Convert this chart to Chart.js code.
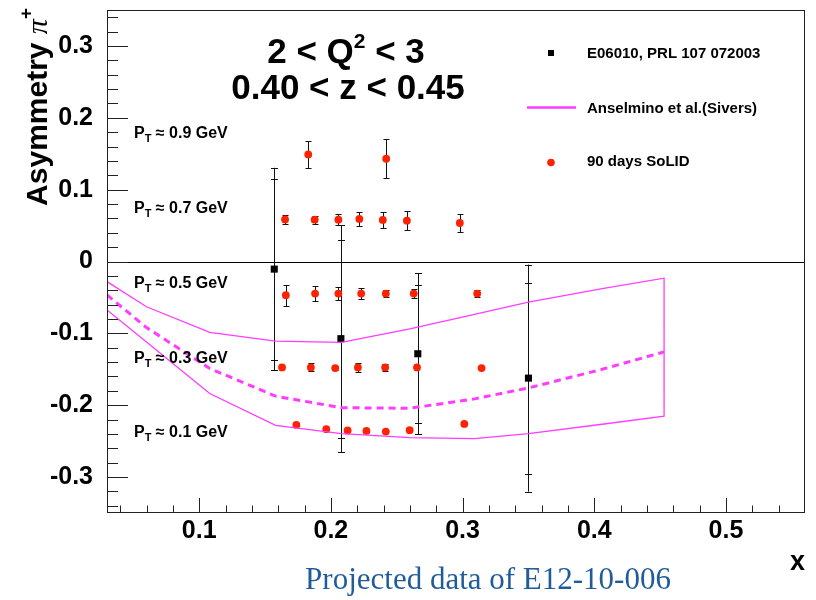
<!DOCTYPE html>
<html>
<head>
<meta charset="utf-8">
<script src="https://cdn.jsdelivr.net/npm/chart.js@4.4.1/dist/chart.umd.min.js"></script>
<style>
  html, body { margin: 0; padding: 0; background: #fff; }
  canvas { display: block; }
</style>
</head>
<body>
<canvas id="asymChart" width="816" height="600"></canvas>
<script>
// axis ticks
const xTicks = [0.1, 0.2, 0.3, 0.4, 0.5];
const yTicks = [-0.3, -0.2, -0.1, 0, 0.1, 0.2, 0.3];

// E06010, PRL 107 072003 (value, total error, stat error)
const e06X = [0.157, 0.2076, 0.266, 0.350];
const e06Y = [-0.0106, -0.1074, -0.1284, -0.1623];
const e06Tot = [0.141, 0.158, 0.112, 0.158];
const e06Stat = [0.126, 0.138, 0.096, 0.133];

// 90 days SoLID projections, one row per PT bin
const ptLabels = ['0.9', '0.7', '0.5', '0.3', '0.1'];
const solidX = [
  [0.1828, 0.2420],
  [0.1652, 0.1877, 0.2057, 0.2216, 0.2394, 0.2577, 0.2979],
  [0.1658, 0.1880, 0.2057, 0.2230, 0.2417, 0.2629, 0.3111],
  [0.1629, 0.1848, 0.2033, 0.2205, 0.2412, 0.2654, 0.3144],
  [0.1738, 0.1965, 0.2127, 0.2270, 0.2417, 0.2598, 0.3013]
];
const solidY = [
  [0.149, 0.143],
  [0.0586, 0.0582, 0.0582, 0.0592, 0.0578, 0.0568, 0.0536],
  [-0.0469, -0.0446, -0.0446, -0.0446, -0.0446, -0.0446, -0.0446],
  [-0.1474, -0.1474, -0.1483, -0.1474, -0.1474, -0.1474, -0.1483],
  [-0.2274, -0.2334, -0.2352, -0.2358, -0.2367, -0.2348, -0.2260]
];
const solidErr = [
  [0.019, 0.027],
  [0.0065, 0.0056, 0.008, 0.0095, 0.011, 0.013, 0.0125],
  [0.0144, 0.0107, 0.0095, 0.0072, 0.0053, 0.0058, 0.005],
  [0, 0.0056, 0.003, 0.0065, 0.0053, 0, 0],
  [0, 0, 0, 0, 0, 0, 0]
];

// Anselmino et al. (Sivers) band
const bandX = [0.030, 0.060, 0.108, 0.158, 0.208, 0.260, 0.309, 0.350, 0.406, 0.453];
const bandUpper = [-0.028, -0.063, -0.0985, -0.1107, -0.1125, -0.0939, -0.0736, -0.0566, -0.0377, -0.0232];
const bandMid = [-0.0465, -0.092, -0.1488, -0.1874, -0.2035, -0.2042, -0.1912, -0.1760, -0.1500, -0.1258];
const bandLower = [-0.0674, -0.112, -0.1837, -0.228, -0.2395, -0.245, -0.2465, -0.2395, -0.2265, -0.2153];

const RED = '#ff2200';
const MAGENTA = '#ff3cff';
const SANS = "'Liberation Sans', Arial, sans-serif";

Chart.defaults.font.family = SANS;
Chart.defaults.color = '#000';

function pts(xs, ys) {
  return xs.map((v, i) => ({ x: v, y: ys[i] }));
}

// draw a run of text pieces (for sub/superscripts)
function rich(ctx, parts, x, y, align) {
  let w = 0;
  parts.forEach(p => { ctx.font = p.font; p.w = ctx.measureText(p.t).width; w += p.w; });
  let cx = align === 'center' ? x - w / 2 : align === 'right' ? x - w : x;
  ctx.textAlign = 'left';
  parts.forEach(p => {
    ctx.font = p.font;
    ctx.fillText(p.t, cx, y + (p.dy || 0));
    cx += p.w;
  });
}

function vline(ctx, x, y1, y2) {
  ctx.beginPath(); ctx.moveTo(x, y1); ctx.lineTo(x, y2); ctx.stroke();
}
function hline(ctx, x1, x2, y) {
  ctx.beginPath(); ctx.moveTo(x1, y); ctx.lineTo(x2, y); ctx.stroke();
}

const rootStyle = {
  id: 'rootStyle',
  beforeDatasetsDraw(chart) {
    const { ctx, chartArea: a, scales: { x, y } } = chart;
    ctx.save();
    ctx.strokeStyle = '#000';
    ctx.lineWidth = 1;
    // zero line
    const y0 = Math.round(y.getPixelForValue(0)) + 0.5;
    hline(ctx, a.left, a.right, y0);

    // E06010 error bars (total + stat caps)
    ctx.strokeStyle = '#111';
    e06X.forEach((xv, i) => {
      const px = Math.round(x.getPixelForValue(xv)) + 0.5;
      const top = y.getPixelForValue(e06Y[i] + e06Tot[i]);
      const bot = y.getPixelForValue(e06Y[i] - e06Tot[i]);
      vline(ctx, px, top, bot);
      [e06Tot[i], e06Stat[i]].forEach(e => {
        hline(ctx, px - 3.5, px + 3.5, Math.round(y.getPixelForValue(e06Y[i] + e)) + 0.5);
        hline(ctx, px - 3.5, px + 3.5, Math.round(y.getPixelForValue(e06Y[i] - e)) + 0.5);
      });
    });

    // SoLID error bars
    solidX.forEach((row, r) => {
      row.forEach((xv, i) => {
        const e = solidErr[r][i];
        if (!e) return;
        const px = Math.round(x.getPixelForValue(xv)) + 0.5;
        const top = Math.round(y.getPixelForValue(solidY[r][i] + e)) + 0.5;
        const bot = Math.round(y.getPixelForValue(solidY[r][i] - e)) + 0.5;
        vline(ctx, px, top, bot);
        hline(ctx, px - 3, px + 3, top);
        hline(ctx, px - 3, px + 3, bot);
      });
    });
    ctx.restore();
  },
  afterDraw(chart) {
    const { ctx, chartArea: a, scales: { x, y } } = chart;
    ctx.save();
    // frame
    ctx.strokeStyle = '#222';
    ctx.lineWidth = 1;
    ctx.strokeRect(a.left + 0.5, a.top + 0.5, a.right - a.left - 1, a.bottom - a.top - 1);

    // inward ticks, y axis (minor every 0.02)
    for (let i = -17; i <= 17; i++) {
      const py = Math.round(y.getPixelForValue(i * 0.02)) + 0.5;
      const len = i % 5 === 0 ? 21 : 11;
      hline(ctx, a.left, a.left + len, py);
    }
    // inward ticks, x axis
    for (let i = 2; i <= 27; i++) {
      const px = Math.round(x.getPixelForValue(i * 0.02)) + 0.5;
      const len = i % 5 === 0 ? 15 : 7.5;
      vline(ctx, px, a.bottom, a.bottom - len);
    }

    ctx.fillStyle = '#000';
    ctx.textBaseline = 'alphabetic';

    // header
    const B35 = 'bold 35px ' + SANS;
    rich(ctx, [
      { t: '2 < Q', font: B35 },
      { t: '2', font: 'bold 21px ' + SANS, dy: -15 },
      { t: ' < 3', font: B35 }
    ], 346, 63, 'center');
    rich(ctx, [{ t: '0.40 < z < 0.45', font: B35 }], 348, 99, 'center');

    // PT labels
    const ptBase = [138, 213, 288, 363, 437];
    ptLabels.forEach((lab, r) => {
      rich(ctx, [
        { t: 'P', font: 'bold 16px ' + SANS },
        { t: 'T', font: 'bold 11px ' + SANS, dy: 4 },
        { t: ' \u2248 ' + lab + ' GeV', font: 'bold 16px ' + SANS }
      ], 134, ptBase[r], 'left');
    });

    // legend
    ctx.fillStyle = '#000';
    ctx.fillRect(548, 50, 6, 6);
    ctx.strokeStyle = MAGENTA;
    ctx.lineWidth = 2.5;
    hline(ctx, 527, 576, 107.5);
    ctx.fillStyle = RED;
    ctx.beginPath(); ctx.arc(551, 162.5, 3.8, 0, Math.PI * 2); ctx.fill();
    ctx.fillStyle = '#000';
    ctx.font = 'bold 15px ' + SANS;
    ctx.textAlign = 'left';
    ctx.fillText('E06010, PRL 107 072003', 587, 58);
    ctx.fillText('Anselmino et al.(Sivers)', 587, 112.5);
    ctx.fillText('90 days SoLID', 587, 165.5);

    // y axis title (rotated, aligned to the top)
    ctx.save();
    ctx.translate(47, 8);
    ctx.rotate(-Math.PI / 2);
    rich(ctx, [
      { t: 'Asymmetry ', font: 'bold 30px ' + SANS },
      { t: '\u03c0', font: 'italic 30px "Liberation Serif", serif' },
      { t: '+', font: 'bold 19px ' + SANS, dy: -15 }
    ], 0, 0, 'right');
    ctx.restore();

    // x axis title
    ctx.font = 'bold 27px ' + SANS;
    ctx.textAlign = 'right';
    ctx.fillText('x', a.right, 570);

    // caption
    ctx.fillStyle = '#1f5c99';
    ctx.font = '31px "Liberation Serif", "Times New Roman", serif';
    ctx.textAlign = 'center';
    ctx.fillText('Projected data of E12-10-006', 488, 589);
    ctx.restore();
  }
};

const datasets = [
  {
    label: 'Anselmino band',
    data: [...pts(bandX, bandUpper), ...pts(bandX, bandLower).reverse(), { x: bandX[0], y: bandUpper[0] }],
    showLine: true, borderColor: MAGENTA, borderWidth: 1.3, pointRadius: 0, fill: false, tension: 0
  },
  {
    label: 'Anselmino central',
    data: pts(bandX, bandMid),
    showLine: true, borderColor: MAGENTA, borderWidth: 3, borderDash: [7, 5], pointRadius: 0, tension: 0
  },
  {
    label: 'E06010, PRL 107 072003',
    data: pts(e06X, e06Y),
    pointStyle: 'rect', pointRadius: 5, backgroundColor: '#000', borderColor: '#000', borderWidth: 0
  },
  ...solidX.map((xs, r) => ({
    label: '90 days SoLID, PT ' + ptLabels[r],
    data: pts(xs, solidY[r]),
    pointRadius: 3.9, backgroundColor: RED, borderColor: RED, borderWidth: 0
  }))
];

new Chart(document.getElementById('asymChart').getContext('2d'), {
  type: 'scatter',
  data: { datasets },
  options: {
    responsive: false,
    animation: false,
    layout: { padding: { top: 10, right: 11, left: 0, bottom: 0 } },
    plugins: { legend: { display: false }, tooltip: { enabled: false } },
    scales: {
      x: {
        type: 'linear', min: 0.03, max: 0.56,
        afterBuildTicks: s => { s.ticks = xTicks.map(v => ({ value: v })); },
        afterFit: s => { s.height = 87; s.paddingLeft = 0; s.paddingRight = 0; },
        grid: { display: false },
        border: { display: false },
        ticks: {
          padding: -5, maxRotation: 0, autoSkip: false,
          font: { size: 25, weight: 'bold' },
          callback: v => v.toFixed(1)
        }
      },
      y: {
        type: 'linear', min: -0.35, max: 0.35,
        afterBuildTicks: s => { s.ticks = yTicks.map(v => ({ value: v })); },
        afterFit: s => { s.width = 107; s.paddingTop = 0; s.paddingBottom = 0; },
        grid: { display: false },
        border: { display: false },
        ticks: {
          padding: 6, autoSkip: false,
          font: { size: 25, weight: 'bold' },
          callback: v => (Math.abs(v) < 1e-9 ? '0' : v.toFixed(1))
        }
      }
    }
  },
  plugins: [rootStyle]
});
</script>
</body>
</html>
